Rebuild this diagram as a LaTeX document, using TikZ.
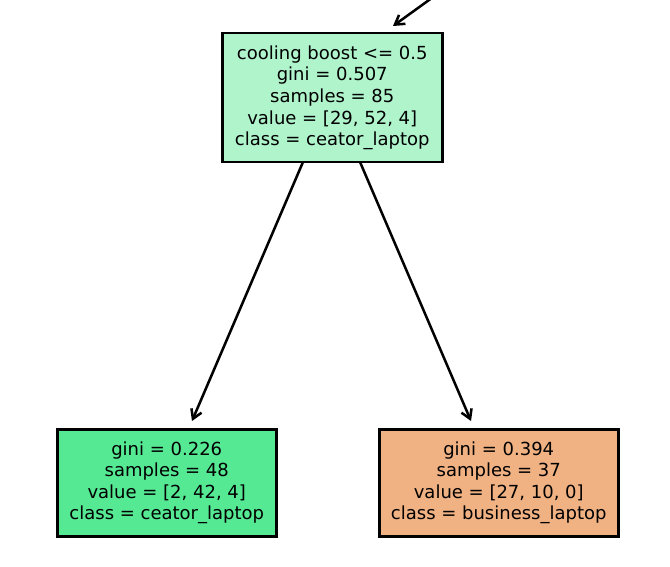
\documentclass[tikz,border=0pt]{standalone}
\usepackage{fontspec}
\setmainfont{DejaVu Sans}
\usetikzlibrary{arrows.meta}
\definecolor{topc}{HTML}{B0F4CC}
\definecolor{leftc}{HTML}{56E993}
\definecolor{rightc}{HTML}{F0B183}
\tikzset{
  treebox/.style={draw=black, line width=2.5pt, align=center, inner sep=0pt,
    font=\fontsize{18}{21.6}\selectfont, anchor=north west},
  edge/.style={line width=2.5pt, -{Straight Barb[length=9pt,width=11pt,line width=2.5pt]}}
}
\begin{document}
\begin{tikzpicture}[x=1pt,y=-1pt]
\useasboundingbox (0,0) rectangle (670,567);
\node[treebox, fill=topc, minimum width=220pt, minimum height=129pt] (root) at (221,32)
  {cooling boost <= 0.5\\gini = 0.507\\samples = 85\\value = [29, 52, 4]\\class = ceator\_laptop};
\node[treebox, fill=leftc, minimum width=219pt, minimum height=107pt] (left) at (56,428)
  {gini = 0.226\\samples = 48\\value = [2, 42, 4]\\class = ceator\_laptop};
\node[treebox, fill=rightc, minimum width=239pt, minimum height=107pt] (right) at (378,428)
  {gini = 0.394\\samples = 37\\value = [27, 10, 0]\\class = business\_laptop};
\coordinate (parent) at (436,-5);
\coordinate (rootin) at (393,26);
\coordinate (rootl) at (303,162);
\coordinate (rootr) at (360,162);
\coordinate (leftin) at (192,421);
\coordinate (rightin) at (471,421);
\draw[edge] (parent) -- (rootin);
\draw[edge] (rootl) -- (leftin);
\draw[edge] (rootr) -- (rightin);
\end{tikzpicture}
\end{document}
